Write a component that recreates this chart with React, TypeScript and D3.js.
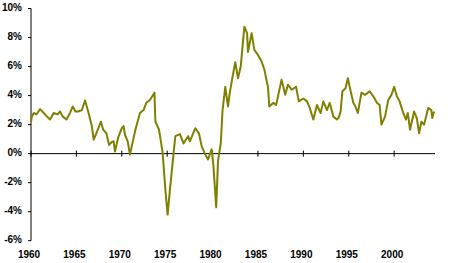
import React from "react";
import * as d3 from "d3";

const years = [
  1960.0, 1960.1, 1960.3, 1960.6, 1961.0, 1961.4, 1961.7, 1962.1, 1962.5, 1962.9,
  1963.2, 1963.5, 1963.9, 1964.3, 1964.6, 1964.9, 1965.2, 1965.6, 1965.95, 1966.3,
  1966.7, 1966.9, 1967.2, 1967.7, 1967.95, 1968.3, 1968.6, 1968.9, 1969.1, 1969.25,
  1969.6, 1970.0, 1970.2, 1970.35, 1970.65, 1970.9, 1971.5, 1972.0, 1972.4, 1972.7,
  1973.1, 1973.6, 1973.7, 1974.1, 1974.5, 1974.8, 1975.05, 1975.3, 1975.7, 1975.9,
  1976.4, 1976.8, 1977.3, 1977.5, 1978.1, 1978.5, 1978.8, 1979.2, 1979.5, 1979.9,
  1980.1, 1980.4, 1980.6, 1980.9, 1981.1, 1981.4, 1981.7, 1981.9, 1982.2, 1982.5,
  1982.8, 1983.1, 1983.5, 1983.8, 1983.9, 1984.3, 1984.6, 1985.0, 1985.4, 1985.7,
  1986.1, 1986.25, 1986.7, 1987.0, 1987.6, 1988.0, 1988.3, 1988.7, 1989.2, 1989.5,
  1990.0, 1990.4, 1990.7, 1991.1, 1991.5, 1991.9, 1992.2, 1992.6, 1992.9, 1993.3,
  1993.7, 1993.9, 1994.1, 1994.3, 1994.65, 1994.9, 1995.1, 1995.5, 1995.7, 1996.0,
  1996.4, 1996.8, 1997.3, 1997.7, 1998.1, 1998.4, 1998.6, 1999.0, 1999.35, 1999.7,
  2000.0, 2000.3, 2000.6, 2001.0, 2001.3, 2001.5, 2001.75, 2002.2, 2002.5, 2002.75,
  2003.0, 2003.3, 2003.75, 2004.1, 2004.2, 2004.4,
];

const rates = [
  2.2, 2.55, 2.8, 2.7, 3.07, 2.8, 2.6, 2.35, 2.8, 2.7,
  2.9, 2.55, 2.35, 2.8, 3.25, 2.9, 2.9, 3.0, 3.66, 2.9,
  1.9, 0.96, 1.4, 2.2, 1.65, 1.4, 0.6, 0.8, 0.85, 0.15,
  1.1, 1.75, 1.9, 1.3, 0.85, -0.07, 1.65, 2.8, 3.0, 3.5,
  3.7, 4.2, 2.2, 1.65, 0.07, -2.5, -4.2, -2.5, 0.0, 1.2,
  1.35, 0.7, 1.2, 0.85, 1.75, 1.4, 0.5, -0.07, -0.4, 0.3,
  -0.9, -3.7, -0.5, 0.7, 3.0, 4.6, 3.25, 4.2, 5.3, 6.3,
  5.2, 6.0, 8.75, 8.3, 7.0, 8.3, 7.15, 6.8, 6.35, 5.8,
  4.6, 3.25, 3.5, 3.35, 5.1, 4.05, 4.75, 4.4, 4.6, 3.6,
  3.8, 3.6, 3.15, 2.35, 3.35, 2.8, 3.6, 3.0, 3.5, 2.55,
  2.35, 2.5, 2.9, 4.3, 4.5, 5.2, 4.6, 3.5, 3.3, 2.8,
  4.2, 4.05, 4.3, 3.95, 3.5, 3.35, 2.0, 2.55, 3.7, 4.05,
  4.6, 3.95, 3.6, 2.8, 2.35, 2.8, 1.65, 2.9, 2.45, 1.4,
  2.2, 2.0, 3.15, 3.0, 2.45, 2.9,
];

const yTicks = [-6, -4, -2, 0, 2, 4, 6, 8, 10];
const xTicks = [1960, 1965, 1970, 1975, 1980, 1985, 1990, 1995, 2000];

export default function App() {
  const W = 450;
  const H = 263;
  const x = d3.scaleLinear().domain([1960, 2004.5]).range([31, 435]);
  const y = d3.scaleLinear().domain([-6, 10]).range([240.7, 8.5]);
  const pts: [number, number][] = years.map((yr, i) => [yr, rates[i]]);
  const line = d3
    .line<[number, number]>()
    .x((d) => x(d[0]))
    .y((d) => y(d[1]));
  const font = "'Liberation Sans', Arial, sans-serif";
  return (
    <svg
      width={W}
      height={H}
      style={{ position: "absolute", left: 0, top: 0, background: "#fff" }}
    >
      {/* y axis */}
      <line x1={x(1960)} x2={x(1960)} y1={y(10)} y2={y(-6)} stroke="#000" strokeWidth={1} />
      {yTicks.map((t) => (
        <g key={t}>
          <line x1={x(1960) - 3} x2={x(1960)} y1={y(t)} y2={y(t)} stroke="#000" strokeWidth={1} />
          <text
            x={22}
            y={y(t)}
            textAnchor="end"
            dominantBaseline="middle"
            fontFamily={font}
            fontWeight="bold"
            fontSize={10}
            fill="#000"
          >
            {t + "%"}
          </text>
        </g>
      ))}
      {/* x axis at 0 */}
      <line x1={x(1960)} x2={435} y1={y(0)} y2={y(0)} stroke="#000" strokeWidth={1} />
      {xTicks.map((t) => (
        <g key={t}>
          <line x1={x(t)} x2={x(t)} y1={y(0) - 3} y2={y(0) + 3} stroke="#000" strokeWidth={1} />
          <text
            x={x(t) - 2}
            y={258}
            textAnchor="middle"
            fontFamily={font}
            fontWeight="bold"
            fontSize={10}
            fill="#000"
          >
            {t}
          </text>
        </g>
      ))}
      <path d={line(pts) || ""} fill="none" stroke="#808000" strokeWidth={2} strokeLinejoin="round" />
    </svg>
  );
}
